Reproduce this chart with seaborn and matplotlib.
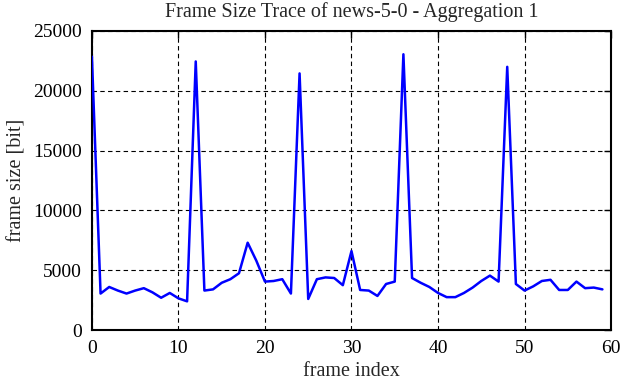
import numpy as np
import pandas as pd
import matplotlib
matplotlib.use("Agg")
import matplotlib.pyplot as plt
import seaborn as sns

# frame sizes (bit), frames 0..59
frame_size = [22850, 3050, 3600, 3300, 3050, 3300, 3500, 3150, 2700, 3100,
              2650, 2400, 22450, 3300, 3400, 3950, 4250, 4750, 7300, 5800,
              4050, 4100, 4250, 3050, 21450, 2600, 4250, 4400, 4350, 3750,
              6600, 3350, 3300, 2850, 3850, 4050, 23050, 4350, 3950, 3600,
              3100, 2750, 2750, 3100, 3550, 4100, 4550, 4050, 22000, 3850,
              3300, 3650, 4100, 4200, 3350, 3350, 4050, 3500, 3550, 3400]
frame_index = list(range(len(frame_size)))

x_ticks = [0, 10, 20, 30, 40, 50, 60]
y_ticks = [0, 5000, 10000, 15000, 20000, 25000]

df = pd.DataFrame({"frame index": frame_index, "frame size [bit]": frame_size})

sns.set_style("white")
plt.rcParams["font.family"] = ["Liberation Serif", "DejaVu Serif"]

fig = plt.figure(figsize=(6.21, 3.82), dpi=100)
ax = fig.add_axes([0.148, 0.136, 0.836, 0.783])

sns.lineplot(data=df, x="frame index", y="frame size [bit]", color="#0000ff",
             linewidth=1.8, ax=ax, zorder=3)

ax.set_xlim(0, 60)
ax.set_ylim(0, 25000)
ax.set_xticks(x_ticks)
ax.set_yticks(y_ticks)
ax.grid(True, color="black", linestyle=(0, (4, 3)), linewidth=0.8)
ax.tick_params(direction="in", length=5, width=1, top=True, right=True,
               labelsize=14, colors="black", pad=7)
for s in ax.spines.values():
    s.set_color("black")
    s.set_linewidth(1.5)

ax.set_title("Frame Size Trace of news-5-0 - Aggregation 1", fontsize=14.5, pad=10)
ax.set_xlabel("frame index", fontsize=14.5, labelpad=4)
ax.set_ylabel("frame size [bit]", fontsize=14.5, labelpad=5)

fig.savefig("out.png", dpi=100)
